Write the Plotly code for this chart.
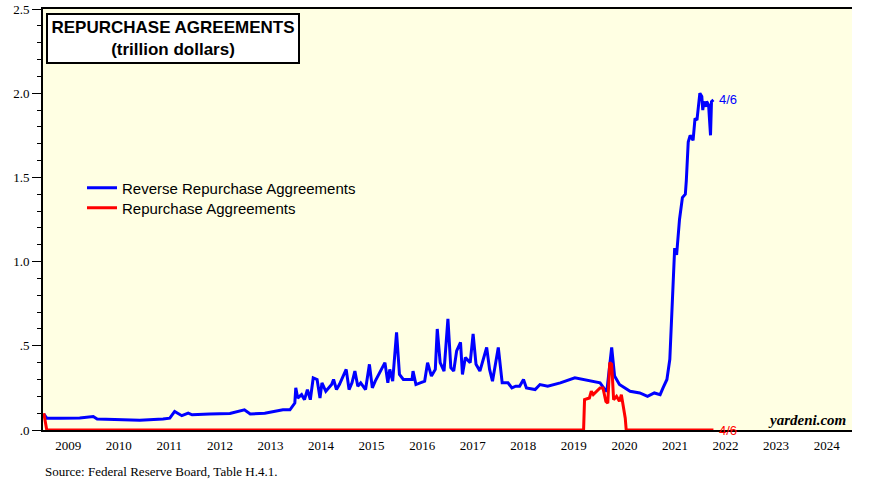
import plotly.graph_objects as go

# ---- data (trillion dollars) ----
rrp_dates = [
    "2009-01-07", "2009-01-28", "2009-05-06", "2009-09-23", "2009-12-30",
    "2010-01-27", "2010-06-02", "2010-12-01", "2011-05-18", "2011-07-06",
    "2011-08-10", "2011-10-01", "2011-11-16", "2011-12-14", "2012-04-18",
    "2012-09-12", "2012-12-26", "2013-02-06", "2013-05-22", "2013-09-30",
    "2013-11-20", "2013-12-25", "2014-01-01", "2014-01-15", "2014-02-12",
    "2014-03-05", "2014-03-26", "2014-04-16", "2014-05-07", "2014-06-04",
    "2014-06-25", "2014-07-09", "2014-08-06", "2014-09-17", "2014-10-01",
    "2014-10-22", "2014-11-12", "2014-12-31", "2015-01-21", "2015-02-11",
    "2015-03-04", "2015-03-25", "2015-04-15", "2015-05-20", "2015-06-17",
    "2015-07-08", "2015-07-29", "2015-10-07", "2015-10-28", "2015-11-11",
    "2015-12-02", "2015-12-30", "2016-01-20", "2016-02-17", "2016-04-20",
    "2016-04-27", "2016-05-18", "2016-07-20", "2016-08-10", "2016-09-07",
    "2016-10-05", "2016-10-19", "2016-11-09", "2016-12-07", "2017-01-04",
    "2017-01-25", "2017-02-15", "2017-03-08", "2017-04-05", "2017-04-19",
    "2017-05-10", "2017-06-14", "2017-07-05", "2017-07-26", "2017-08-23",
    "2017-10-11", "2017-11-01", "2017-11-22", "2018-01-03", "2018-01-31",
    "2018-03-14", "2018-04-11", "2018-05-09", "2018-06-06", "2018-07-04",
    "2018-07-25", "2018-09-26", "2018-10-31", "2018-12-26", "2019-03-27",
    "2019-07-10", "2019-09-18", "2019-11-06", "2020-01-08", "2020-02-12",
    "2020-02-26", "2020-04-01", "2020-04-22", "2020-05-27", "2020-08-12",
    "2020-10-21", "2020-12-16", "2021-02-03", "2021-03-17", "2021-04-07",
    "2021-05-05", "2021-05-26", "2021-06-09", "2021-06-23", "2021-06-30",
    "2021-07-14", "2021-08-04", "2021-08-25", "2021-09-15", "2021-09-22",
    "2021-09-29", "2021-10-06", "2021-10-20", "2021-11-10", "2021-11-24",
    "2021-12-08", "2021-12-29", "2022-01-12", "2022-01-19", "2022-01-26",
    "2022-02-09", "2022-02-16", "2022-03-02", "2022-03-16", "2022-03-23",
    "2022-04-06",
]
rrp_values = [
    0.095, 0.070, 0.070, 0.072, 0.080,
    0.065, 0.062, 0.058, 0.065, 0.070,
    0.110, 0.085, 0.100, 0.090, 0.095,
    0.098, 0.120, 0.095, 0.100, 0.120,
    0.120, 0.160, 0.250, 0.190, 0.210,
    0.180, 0.240, 0.180, 0.310, 0.300,
    0.190, 0.280, 0.230, 0.270, 0.300,
    0.240, 0.270, 0.360, 0.240, 0.280,
    0.350, 0.260, 0.280, 0.240, 0.390,
    0.250, 0.290, 0.400, 0.280, 0.360,
    0.290, 0.580, 0.330, 0.300, 0.300,
    0.350, 0.270, 0.290, 0.400, 0.320,
    0.360, 0.600, 0.400, 0.350, 0.660,
    0.370, 0.350, 0.470, 0.520, 0.330,
    0.430, 0.400, 0.570, 0.390, 0.350,
    0.490, 0.360, 0.290, 0.490, 0.280,
    0.280, 0.250, 0.260, 0.260, 0.300,
    0.250, 0.240, 0.270, 0.260, 0.280,
    0.310, 0.300, 0.290, 0.280, 0.240,
    0.230, 0.490, 0.320, 0.270, 0.230,
    0.220, 0.200, 0.220, 0.210, 0.250,
    0.300, 0.420, 0.710, 1.000, 1.080,
    1.040, 1.250, 1.380, 1.400, 1.480,
    1.600, 1.710, 1.750, 1.720, 1.850,
    1.840, 2.000, 1.980, 1.900, 1.950,
    1.920, 1.950, 1.930, 1.750, 1.950,
    1.960,
]

rp_dates = [
    "2009-01-07", "2009-01-28", "2019-09-11", "2019-09-18", "2019-10-23",
    "2019-11-06", "2019-11-20", "2019-12-11", "2020-01-08", "2020-01-29",
    "2020-02-19", "2020-03-04", "2020-03-18", "2020-04-01", "2020-04-15",
    "2020-05-06", "2020-05-27", "2020-06-10", "2020-06-24", "2020-07-08",
    "2020-07-15", "2022-04-06",
]
rp_values = [
    0.10, 0.00, 0.00, 0.18, 0.19,
    0.23, 0.21, 0.23, 0.25, 0.25,
    0.17, 0.16, 0.40, 0.39, 0.18,
    0.20, 0.17, 0.21, 0.14, 0.07,
    0.00, 0.00,
]

series_names = ["Reverse Repurchase Aggreements", "Repurchase Aggreements"]
last_label = "4/6"
title_lines = ["REPURCHASE AGREEMENTS", "(trillion dollars)"]
source_text = "Source: Federal Reserve Board, Table H.4.1."
brand_text = "yardeni.com"

SERIF = "Liberation Serif, Times New Roman, serif"
SANS = "Liberation Sans, Arial, sans-serif"

fig = go.Figure()
fig.add_trace(go.Scatter(x=rrp_dates, y=rrp_values, mode="lines",
                         name=series_names[0], legend="legend",
                         line=dict(color="#0000FF", width=3)))
fig.add_trace(go.Scatter(x=rp_dates, y=rp_values, mode="lines",
                         name=series_names[1], legend="legend2",
                         line=dict(color="#FF0000", width=3)))

yaxis_common = dict(
    range=[0, 2.5], tickmode="linear", tick0=0, dtick=0.5, tickformat=".1f",
    labelalias={"0.0": ".0", "0.5": ".5"},
    ticks="outside", ticklen=9, tickwidth=1, tickcolor="black",
    minor=dict(tickmode="linear", tick0=0, dtick=0.1, ticks="outside",
               ticklen=4, tickwidth=1, tickcolor="black"),
    showgrid=False, zeroline=False, showline=True, linecolor="black",
    linewidth=2, tickfont=dict(family=SERIF, size=13, color="black"),
    automargin=False, fixedrange=True,
)

legend_common = dict(xanchor="left", yanchor="middle",
                     bgcolor="rgba(0,0,0,0)", borderwidth=0,
                     font=dict(family=SANS, size=15, color="black"))

fig.update_layout(
    width=890, height=493,
    margin=dict(l=43, r=38, t=9, b=63, autoexpand=False),
    paper_bgcolor="white",
    plot_bgcolor="#FFFFE3",
    xaxis=dict(
        type="date", range=["2009-01-01", "2025-01-01"],
        tickmode="linear", tick0="2009-01-01", dtick="M12",
        tickformat="%Y", ticklabelmode="period",
        ticks="", ticklabelstandoff=2,
        minor=dict(tickmode="linear", tick0="2009-01-01", dtick="M12",
                   ticks="outside", ticklen=11, tickwidth=2, tickcolor="black"),
        showgrid=False, zeroline=False, showline=True, mirror=True,
        linecolor="black", linewidth=2, automargin=False, fixedrange=True,
        tickfont=dict(family=SERIF, size=13, color="black"),
    ),
    yaxis=dict(side="left", **yaxis_common),
    yaxis2=dict(side="right", overlaying="y", anchor="x", **yaxis_common),
    showlegend=True,
    legend=dict(x=(82 - 43) / 809, y=(430 - 188) / 421, **legend_common),
    legend2=dict(x=(82 - 43) / 809, y=(430 - 208) / 421, **legend_common),
)

# title box
fig.add_annotation(
    xref="paper", yref="paper", x=(46 - 43) / 809, y=(430 - 13) / 421,
    xanchor="left", yanchor="top",
    text="<b>" + title_lines[0] + "</b><br><b>" + title_lines[1] + "</b>",
    showarrow=False, align="center",
    font=dict(family=SANS, size=17, color="black"),
    bgcolor="white", bordercolor="black", borderwidth=2, borderpad=0,
    width=250, height=47,
)

# end-point labels
fig.add_annotation(x=rrp_dates[-1], y=rrp_values[-1], xref="x", yref="y",
                   text=last_label, showarrow=False, xanchor="left",
                   xshift=4, font=dict(family=SANS, size=13, color="#0000FF"))
fig.add_annotation(x=rp_dates[-1], y=rp_values[-1], xref="x", yref="y",
                   text=last_label, showarrow=False, xanchor="left",
                   xshift=4, font=dict(family=SANS, size=13, color="#FF0000"))

# brand
fig.add_annotation(xref="paper", yref="paper", x=(848 - 43) / 809,
                   y=(430 - 420) / 421, xanchor="right", yanchor="middle",
                   text="<b><i>" + brand_text + "</i></b>", showarrow=False,
                   font=dict(family=SERIF, size=15, color="black"))

# source
fig.add_annotation(xref="paper", yref="paper", x=0, y=(430 - 471) / 421,
                   xanchor="left", yanchor="middle", text=source_text,
                   showarrow=False,
                   font=dict(family=SERIF, size=13, color="black"))

fig.write_html("out.html",
               config={"displayModeBar": False, "staticPlot": True},
               post_script="document.body.style.margin='0';"
                           "document.body.style.overflow='hidden';")
